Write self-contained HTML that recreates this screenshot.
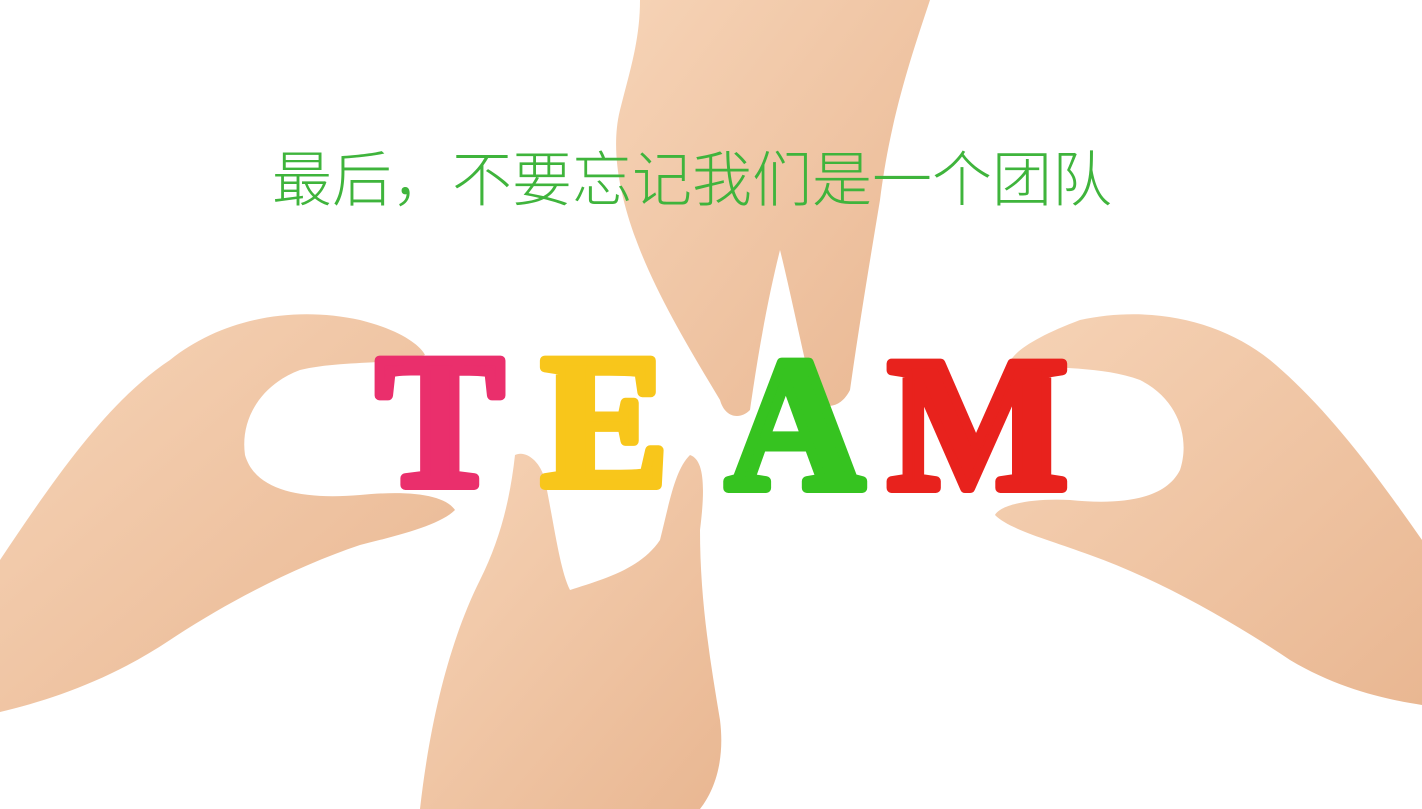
<!DOCTYPE html>
<html><head><meta charset="utf-8">
<style>
html,body{margin:0;padding:0;background:#fff;}
#stage{position:relative;width:1422px;height:809px;overflow:hidden;background:#fff;}
#caption{position:absolute;left:272px;top:146px;font-family:"Liberation Sans","Noto Sans CJK SC",sans-serif;font-weight:300;font-size:60px;color:#3fb43c;white-space:nowrap;line-height:70px;}
svg{position:absolute;left:0;top:0;}
</style></head>
<body>
<div id="stage">
<svg width="1422" height="809" viewBox="0 0 1422 809">
  <defs>
    <linearGradient id="skin" x1="0" y1="0" x2="1" y2="1">
      <stop offset="0" stop-color="#f6d3b6"/>
      <stop offset="1" stop-color="#e9b792"/>
    </linearGradient>
  </defs>
  <path fill="url(#skin)" d="M0,560 C60,470 110,400 170,360 C220,320 290,305 360,320 C400,330 420,345 425,355 C400,365 340,360 300,370 C260,385 240,420 245,455 C255,490 300,500 360,495 C410,490 445,495 455,510 C440,525 400,535 360,545 C300,565 230,600 170,640 C110,680 50,700 0,712 Z"/>
  <path fill="url(#skin)" d="M640,0 L930,0 C910,60 890,120 880,200 C870,260 860,320 850,390 C840,410 820,412 812,390 C800,340 790,290 780,250 C770,290 760,340 750,410 C740,420 725,418 720,400 C690,350 660,300 640,250 C620,200 610,150 620,110 C630,70 640,40 640,0 Z"/>
  <path fill="url(#skin)" d="M420,809 C430,720 450,640 480,580 C500,540 510,500 515,455 C525,450 540,460 545,480 C555,530 560,570 570,590 C600,580 640,570 660,540 C670,500 675,470 690,455 C705,460 705,490 700,530 C700,600 710,660 720,720 C725,760 715,790 700,809 Z"/>
  <path fill="url(#skin)" d="M1422,540 C1380,480 1330,410 1270,360 C1220,320 1150,305 1080,320 C1040,335 1015,350 1010,362 C1050,370 1100,365 1140,380 C1180,400 1190,440 1180,470 C1165,500 1120,505 1070,500 C1030,498 1000,505 995,515 C1010,530 1050,540 1090,555 C1160,580 1230,620 1290,660 C1340,690 1390,700 1422,705 Z"/>
  <g font-family="Liberation Serif,serif" font-weight="bold" font-size="190" text-anchor="middle" stroke-width="10" stroke-linejoin="round">
  <text x="440" y="485" fill="#ea2f6c" stroke="#ea2f6c">T</text>
  <text x="605" y="485" fill="#f8c61b" stroke="#f8c61b">E</text>
  <text x="795" y="488" fill="#36c320" stroke="#36c320">A</text>
  <text x="978" y="488" fill="#e8221d" stroke="#e8221d">M</text>
  </g>
</svg>
<div id="caption">最后，不要忘记我们是一个团队</div>
</div>
</body></html>
